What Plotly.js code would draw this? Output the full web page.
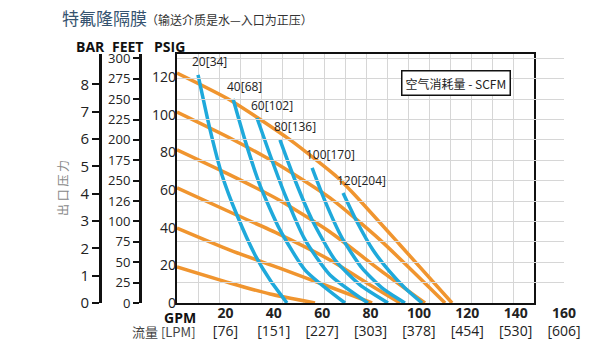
<!DOCTYPE html>
<html>
<head>
<meta charset="utf-8">
<script src="https://cdn.plot.ly/plotly-3.0.1.min.js"></script>
<style>html,body{margin:0;padding:0;background:#fff;}#chart{width:598px;height:354px;}</style>
</head>
<body>
<div id="chart"></div>
<script>
// ---- data (GPM vs discharge pressure PSIG) ----
const gpmTicks = [20, 40, 60, 80, 100, 120, 140, 160];
const lpmLabels = ['[76]', '[151]', '[227]', '[303]', '[378]', '[454]', '[530]', '[606]'];
const psiTicks = [0, 20, 40, 60, 80, 100, 120];
const feetTicks = [0, 25, 50, 75, 100, 125, 150, 175, 200, 225, 250, 275, 300];
const feetLabels = ['0', '25', '50', '75', '100', '126', '250', '175', '200', '225', '250', '275', '300'];
const barTicks = [0, 1, 2, 3, 4, 5, 6, 7, 8];

// orange: air inlet pressure curves
const air120Gpm = [0, 21.9, 46.8, 66.2, 72.8, 92.3, 113.8];
const air120Psi = [122.1, 107.8, 86.6, 66.9, 58.4, 30.8, 0];
const air100Gpm = [0, 21.9, 42.2, 63.3, 84.0, 110.9];
const air100Psi = [101.4, 87.6, 73.3, 55.8, 33.5, 0];
const air80Gpm = [0, 21.9, 42.2, 63.3, 84.0, 102.6];
const air80Psi = [81.3, 68.0, 54.7, 37.7, 17.5, 0];
const air60Gpm = [0, 21.9, 42.2, 63.3, 79.9, 92.3];
const air60Psi = [61.1, 48.3, 36.6, 22.8, 9.6, 0];
const air40Gpm = [0, 21.9, 42.2, 63.3, 80.7];
const air40Psi = [39.8, 28.1, 18.6, 8.5, 0];
const air20Gpm = [0, 21.9, 38.5, 57.1];
const air20Psi = [19.1, 10.6, 4.8, 0];

// blue: air consumption curves (SCFM [m3/h])
const scfmLabels = ['20[34]', '40[68]', '60[102]', '80[136]', '100[170]', '120[204]'];
const scfm20Gpm = [8.7, 13.7, 18.6, 24.8, 32.3, 38.5, 45.5];
const scfm20Psi = [121.1, 91.9, 68.0, 46.7, 25.5, 12.2, 0];
const scfm40Gpm = [23.2, 28.1, 34.3, 42.6, 53.0, 69.5];
const scfm40Psi = [108.3, 86.6, 62.6, 38.8, 17.5, 0];
const scfm60Gpm = [33.1, 38.5, 44.7, 53.0, 63.3, 79.0];
const scfm60Psi = [98.2, 78.6, 57.4, 33.5, 14.9, 0];
const scfm80Gpm = [42.6, 48.8, 55.9, 65.4, 75.7, 87.3];
const scfm80Psi = [86.6, 65.3, 44.1, 22.8, 9.6, 0];
const scfm100Gpm = [55.9, 61.2, 68.3, 76.5, 84.8, 94.3];
const scfm100Psi = [71.7, 54.2, 34.5, 18.6, 8.0, 0];
const scfm120Gpm = [68.7, 74.5, 81.1, 88.1, 94.3, 101.4];
const scfm120Psi = [58.4, 43.0, 28.1, 16.5, 8.0, 0];

// ---- build ----
const ORANGE = '#F0952F';
const BLUE = '#1FA9DB';
const NUM_FONT = 'Open Sans, Liberation Sans, sans-serif';
const CJK = 'Noto Sans CJK SC, sans-serif';
const PSI_MAX = 132.2;

const airSeries = [[air20Gpm, air20Psi], [air40Gpm, air40Psi], [air60Gpm, air60Psi],
                   [air80Gpm, air80Psi], [air100Gpm, air100Psi], [air120Gpm, air120Psi]];
const scfmSeries = [[scfm20Gpm, scfm20Psi], [scfm40Gpm, scfm40Psi], [scfm60Gpm, scfm60Psi],
                    [scfm80Gpm, scfm80Psi], [scfm100Gpm, scfm100Psi], [scfm120Gpm, scfm120Psi]];

const traces = [];
airSeries.forEach(s => traces.push({
  x: s[0], y: s[1], type: 'scatter', mode: 'lines', xaxis: 'x', yaxis: 'y',
  line: {color: ORANGE, width: 3.5, shape: 'spline', smoothing: 0.6},
  hoverinfo: 'skip', showlegend: false
}));
scfmSeries.forEach(s => traces.push({
  x: s[0], y: s[1], type: 'scatter', mode: 'lines', xaxis: 'x', yaxis: 'y',
  line: {color: BLUE, width: 3.5, shape: 'spline', smoothing: 0.6},
  hoverinfo: 'skip', showlegend: false
}));
// invisible helper traces so the extra label axes get their subplots
const helper = (xs, ys, xa, ya) => ({x: xs, y: ys, xaxis: xa, yaxis: ya, type: 'scatter', mode: 'markers',
  marker: {opacity: 0, size: 1}, hoverinfo: 'skip', showlegend: false});
traces.push(helper(gpmTicks, gpmTicks.map(() => 0), 'x2', 'y'));
traces.push(helper(feetTicks.map(() => 0), feetTicks, 'x', 'y2'));
traces.push(helper(barTicks.map(() => 0), barTicks, 'x', 'y3'));
traces.push(helper(psiTicks.map(() => 0), psiTicks, 'x', 'y4'));

const W = 598, H = 354;
const px = v => v / W;
const py = v => 1 - v / H;
const pa = (text, x, y, font, extra) => Object.assign({text, x: px(x), y: py(y), xref: 'paper', yref: 'paper',
  xanchor: 'center', yanchor: 'middle', showarrow: false, font}, extra || {});

const annotations = [
  pa('特氟隆隔膜', 60, 18, {family: CJK, size: 17, color: '#35536f'}, {xanchor: 'left'}),
  pa('（输送介质是水—入口为正压）', 144, 19, {family: CJK, size: 12, color: '#333'}, {xanchor: 'left'}),
  pa('<b>BAR</b>', 90, 46, {family: NUM_FONT, size: 14, color: '#111'}),
  pa('<b>FEET</b>', 127, 46, {family: NUM_FONT, size: 14, color: '#111'}),
  pa('<b>PSIG</b>', 169, 46, {family: NUM_FONT, size: 14, color: '#111'}),
  pa('出 口 压 力', 62, 188, {family: CJK, size: 12, color: '#888'}, {textangle: -90}),
  pa('<b>GPM</b>', 198, 317, {family: NUM_FONT, size: 14, color: '#111'}, {xanchor: 'right'}),
  pa('流量 [LPM]', 198, 331, {family: CJK, size: 13, color: '#444'}, {xanchor: 'right'}),
  pa('空气消耗量 - SCFM', 456, 83, {family: CJK, size: 12, color: '#222'},
     {bordercolor: '#111', borderwidth: 1.5, borderpad: 3, bgcolor: '#fff'})
];
scfmSeries.forEach((s, i) => annotations.push({
  text: scfmLabels[i], x: s[0][0], y: s[1][0], xref: 'x', yref: 'y', xanchor: 'left', yanchor: 'middle',
  xshift: -8, yshift: 13, showarrow: false, font: {family: NUM_FONT, size: 12, color: '#222'}
}));

const layout = {
  width: W, height: H,
  margin: {l: 0, r: 0, t: 0, b: 0, pad: 0},
  paper_bgcolor: '#fff', plot_bgcolor: 'rgba(0,0,0,0)',
  showlegend: false,
  xaxis: {domain: [px(177), px(534)], range: [0, 147.7], showticklabels: false, ticks: '',
          showgrid: true, tick0: 0, dtick: 147.7 / 17, gridcolor: '#d6d6d6', gridwidth: 1,
          zeroline: false, showline: true, mirror: true, linecolor: '#111', linewidth: 2, anchor: 'y'},
  xaxis2: {domain: [px(177), px(564)], range: [0, 160], anchor: 'y', side: 'bottom',
           tickmode: 'array', tickvals: gpmTicks,
           ticktext: gpmTicks.map((g, i) => '<b>' + g + '</b><br>' + lpmLabels[i]),
           ticks: '', showgrid: false, zeroline: false, showline: false,
           tickfont: {family: NUM_FONT, size: 14, color: '#222'}},
  yaxis: {domain: [51 / H, 1 - 54 / H], range: [0, PSI_MAX], anchor: 'x',
          showticklabels: false, ticks: '', showgrid: true, tick0: 0, dtick: 25 / 2.31,
          gridcolor: '#d6d6d6', gridwidth: 1,
          zeroline: false, showline: true, mirror: true, linecolor: '#111', linewidth: 2},
  yaxis4: {overlaying: 'y', anchor: 'x', side: 'left', range: [0, PSI_MAX],
           tickmode: 'array', tickvals: psiTicks, ticks: '', showgrid: false, showline: false, zeroline: false,
           tickfont: {family: NUM_FONT, size: 14, color: '#222'}},
  yaxis2: {overlaying: 'y', anchor: 'free', position: px(140), side: 'left', range: [0, PSI_MAX * 2.31],
           tickmode: 'array', tickvals: feetTicks, ticktext: feetLabels,
           ticks: 'outside', ticklen: 6, tickwidth: 2, tickcolor: '#111',
           showline: true, linecolor: '#111', linewidth: 2.5, showgrid: false, zeroline: false,
           tickfont: {family: NUM_FONT, size: 13, color: '#222'}},
  yaxis3: {overlaying: 'y', anchor: 'free', position: px(100), side: 'left', range: [0, PSI_MAX / 14.5038],
           tickmode: 'array', tickvals: barTicks,
           ticks: 'outside', ticklen: 7, tickwidth: 2, tickcolor: '#111',
           showline: true, linecolor: '#111', linewidth: 2.5, showgrid: false, zeroline: false,
           tickfont: {family: NUM_FONT, size: 15, color: '#222'}},
  annotations: annotations
};

Plotly.newPlot('chart', traces, layout, {staticPlot: true, displayModeBar: false});
</script>
</body>
</html>
